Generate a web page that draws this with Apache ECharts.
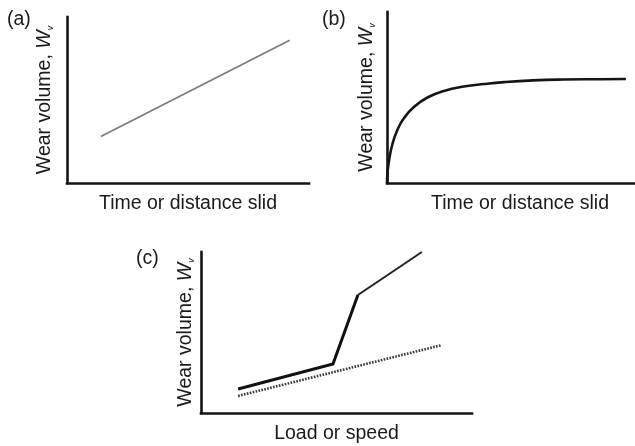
<!DOCTYPE html>
<html>
<head>
<meta charset="utf-8">
<script src="https://cdn.jsdelivr.net/npm/echarts@6/dist/echarts.min.js"></script>
<style>
  html, body { margin: 0; padding: 0; background: #fff; }
  #chart { width: 635px; height: 446px; }
</style>
</head>
<body>
<div id="chart"></div>
<script>
// Panel labels and axis titles
const panelLabels = ['(a)', '(b)', '(c)'];
const xTitles = ['Time or distance slid', 'Time or distance slid', 'Load or speed'];
const yTitle = 'Wear volume, ';

// (a) linear wear: [x, y] on a 0-100 schematic scale
const linearWear = [[14, 28], [92, 86]];

// (b) running-in then steady state
const runInWear = [
  [0, 0], [0.2, 6], [0.8, 13.5], [2.0, 22.5], [3.9, 31.0], [6.4, 38.0],
  [10.2, 44.6], [15.2, 50.0], [21.4, 53.8], [28.9, 56.4], [36.5, 57.9],
  [44.0, 59.0], [54.9, 60.0], [66.2, 60.5], [80.1, 60.7], [89.8, 60.8]
];

// (c) mild-to-severe transition (solid) and mild wear trend (dotted)
const transitionLow = [[13.7, 14.9], [48.7, 30.4], [57.9, 73.3]];
const transitionHigh = [[57.9, 73.3], [81.5, 100]];
const mildTrend = [[13.7, 10.6], [88.9, 42.2]];

const FONT = '"Liberation Sans", Arial, sans-serif';
const INK = '#141414';

const grids = [
  { left: 67, top: 17, width: 242, height: 166, outerBoundsMode: 'none' },
  { left: 387, top: 12, width: 266, height: 171, outerBoundsMode: 'none' },
  { left: 201, top: 252, width: 271, height: 161, outerBoundsMode: 'none' }
];

const yNameGaps = [12, 10, 5];

function xAxisFor(i) {
  return {
    gridIndex: i, type: 'value', min: 0, max: 100,
    axisLine: { show: true, lineStyle: { color: INK, width: 2.6, cap: 'square' } },
    axisTick: { show: false }, axisLabel: { show: false }, splitLine: { show: false },
    name: xTitles[i], nameLocation: 'middle', nameGap: 11,
    nameTextStyle: { fontFamily: FONT, fontSize: 19.5, color: '#1a1a1a' }
  };
}

function yAxisFor(i) {
  return {
    gridIndex: i, type: 'value', min: 0, max: 100,
    axisLine: { show: true, lineStyle: { color: INK, width: 2.6, cap: 'square' } },
    axisTick: { show: false }, axisLabel: { show: false }, splitLine: { show: false },
    name: '{a|' + yTitle + '}{w|W}{s|v}',
    nameLocation: 'middle', nameRotate: 90, nameGap: yNameGaps[i],
    nameTextStyle: {
      fontFamily: FONT, fontSize: 19.5, color: '#1a1a1a',
      rich: {
        a: { fontFamily: FONT, fontSize: 19.5, color: '#1a1a1a' },
        w: { fontFamily: FONT, fontSize: 19.5, fontStyle: 'italic', color: '#1a1a1a' },
        s: { fontFamily: FONT, fontSize: 9, fontStyle: 'italic', color: '#1a1a1a', verticalAlign: 'bottom' }
      }
    }
  };
}

const labelPos = [
  { left: 7, top: 10 },
  { left: 322, top: 10 },
  { left: 136, top: 249 }
];

const option = {
  backgroundColor: '#ffffff',
  animation: false,
  grid: grids,
  xAxis: [0, 1, 2].map(xAxisFor),
  yAxis: [0, 1, 2].map(yAxisFor),
  graphic: panelLabels.map((t, i) => ({
    type: 'text', left: labelPos[i].left, top: labelPos[i].top,
    style: { text: t, font: '19.5px ' + FONT, fill: '#1a1a1a' }
  })),
  series: [
    {
      type: 'line', xAxisIndex: 0, yAxisIndex: 0, data: linearWear,
      symbol: 'none', lineStyle: { color: '#7a7a7a', width: 1.6 }
    },
    {
      type: 'line', xAxisIndex: 1, yAxisIndex: 1, data: runInWear,
      symbol: 'none', smooth: 0.5,
      lineStyle: { color: '#151515', width: 2.6 }
    },
    {
      type: 'line', xAxisIndex: 2, yAxisIndex: 2, data: transitionLow,
      symbol: 'none', lineStyle: { color: '#111', width: 3, join: 'miter' }
    },
    {
      type: 'line', xAxisIndex: 2, yAxisIndex: 2, data: transitionHigh,
      symbol: 'none', lineStyle: { color: '#222', width: 2 }
    },
    {
      type: 'line', xAxisIndex: 2, yAxisIndex: 2, data: mildTrend,
      symbol: 'none', lineStyle: { color: '#333', width: 2.6, type: [1.6, 1.4] }
    }
  ]
};

const chart = echarts.init(document.getElementById('chart'), null, { renderer: 'canvas' });
chart.setOption(option);
</script>
</body>
</html>
